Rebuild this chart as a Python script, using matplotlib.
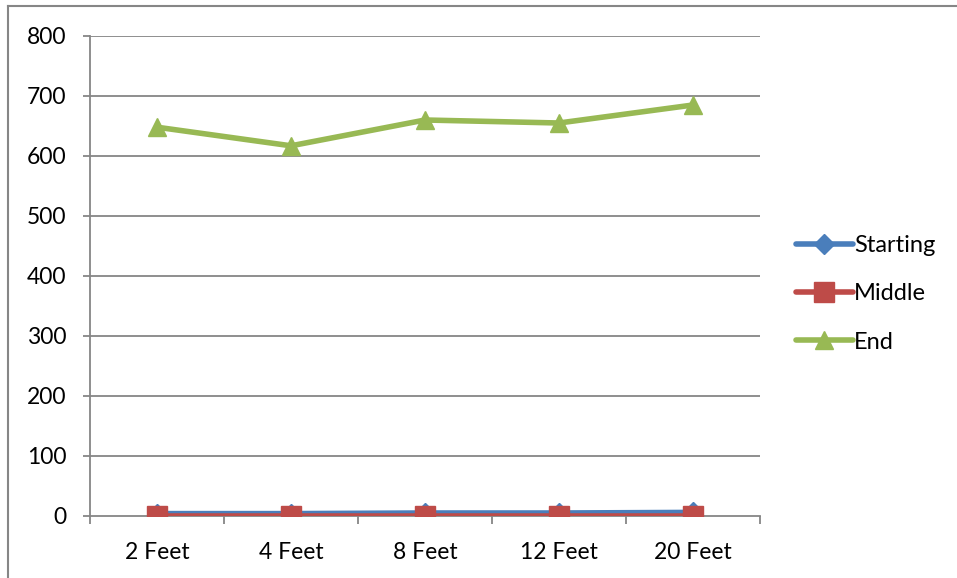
import matplotlib
matplotlib.use("Agg")
import matplotlib.pyplot as plt
from matplotlib.lines import Line2D

plt.rcParams['font.family'] = ['Lato', 'DejaVu Sans']

categories = ["2 Feet", "4 Feet", "8 Feet", "12 Feet", "20 Feet"]
starting = [4, 4, 5, 5, 6]
middle = [0.5, 0.5, 0.5, 0.5, 0.5]
end = [648, 617, 660, 655, 685]
y_ticks = [0, 100, 200, 300, 400, 500, 600, 700, 800]

W, H = 957, 578
fig = plt.figure(figsize=(W / 100, H / 100), dpi=100)
ax = fig.add_axes([90 / W, (H - 516) / H, (760 - 90) / W, (516 - 36) / H])

grid_col = "#868686"
x = list(range(len(categories)))

ax.plot(x, starting, color="#4A7EBB", lw=4, marker="D", ms=10,
        mfc="#4A7EBB", mec="#4A7EBB", label="Starting", zorder=3, solid_capstyle="round")
ax.plot(x, middle, color="#BE4B48", lw=4, marker="s", ms=14,
        mfc="#BE4B48", mec="#BE4B48", label="Middle", zorder=4, solid_capstyle="round")
ax.plot(x, end, color="#98B954", lw=4, marker="^", ms=13,
        mfc="#98B954", mec="#98B954", label="End", zorder=5, solid_capstyle="round")

ax.set_xlim(-0.5, len(categories) - 0.5)
ax.set_ylim(0, 800)
ax.set_yticks(y_ticks)
ax.set_yticklabels([str(v) for v in y_ticks])
ax.set_xticks(x)
ax.set_xticklabels(categories)
ax.set_xticks([i - 0.5 for i in range(len(categories) + 1)], minor=True)

for v in y_ticks[1:]:
    ax.axhline(v, color=grid_col, lw=1.3, zorder=1)

for s in ("top", "right"):
    ax.spines[s].set_visible(False)
for s in ("left", "bottom"):
    ax.spines[s].set_color(grid_col)
    ax.spines[s].set_linewidth(1.3)

ax.tick_params(axis="y", length=5, width=1.3, color=grid_col, pad=12,
               labelsize=16.5, labelcolor="black")
ax.tick_params(axis="x", which="major", length=0, pad=19,
               labelsize=16.5, labelcolor="black")
ax.tick_params(axis="x", which="minor", length=6, width=1.3, color=grid_col)

leg = fig.legend(loc="center left", bbox_to_anchor=(796 / W, (H - 294) / H),
                 frameon=False, fontsize=17, handlelength=2.4,
                 handletextpad=0.05, labelspacing=1.15, borderpad=0,
                 borderaxespad=0)

# chart frame edges
fig.add_artist(Line2D([8 / W, 8 / W], [0, (H - 6) / H], color=grid_col, lw=1.5,
                      transform=fig.transFigure))
fig.add_artist(Line2D([8 / W, 1], [(H - 6) / H, (H - 6) / H], color=grid_col, lw=1.5,
                      transform=fig.transFigure))

fig.savefig("out.png", dpi=100)
